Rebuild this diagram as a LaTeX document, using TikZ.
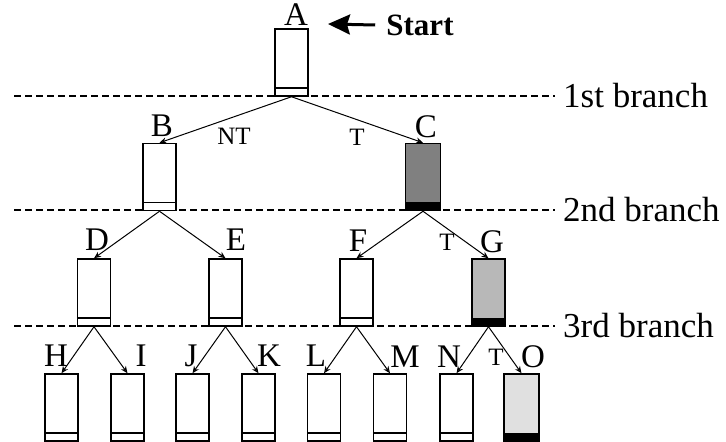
\documentclass[tikz,border=0pt]{standalone}
\usepackage{fontspec}
\setmainfont{Liberation Serif}
\usetikzlibrary{arrows.meta,positioning}

\begin{document}
\begin{tikzpicture}[
        x=1pt, y=-1pt,
        blk/.style={draw, fill=white, line width=1.5pt, minimum width=33pt,
            minimum height=67pt, inner sep=0pt},
        taken/.style={blk, fill=#1},
        br/.style={black, line width=1.1pt, dash pattern=on 7pt off 4pt},
        edge/.style={line width=1pt, -{Stealth[open,length=7pt,width=6pt]}},
        lbl/.style={inner sep=0pt, font=\fontsize{33}{36}\selectfont},
        tl/.style={inner sep=0pt, font=\fontsize{25}{28}\selectfont},
        brl/.style={inner sep=0pt, anchor=west, font=\fontsize{35}{40}\selectfont},
        every node/.style={color=black},
    ]
    \useasboundingbox (0,0) rectangle (726,442);

    % branch levels
    \node[brl] at (563,96) (b1) {1st branch};
    \node[brl] at (563,210) (b2) {2nd branch};
    \node[brl] at (563,326) (b3) {3rd branch};
    \coordinate (l1) at (14,96);
    \coordinate (l2) at (14,210);
    \coordinate (l3) at (14,326);
    \draw[br] (l1) -- ([xshift=-8pt]b1.west);
    \draw[br] (l2) -- ([xshift=-8pt]b2.west);
    \draw[br] (l3) -- ([xshift=-8pt]b3.west);

    % blocks
    \node[blk] at (291.5,62.5) (A) {};
    \node[blk] at (159.5,177) (B) {};
    \node[taken=black!50, minimum width=35pt] at (423,177) (C) {};
    \node[blk] at (94,292.5) (D) {};
    \node[blk] at (225.5,292.5) (E) {};
    \node[blk] at (356.5,292.5) (F) {};
    \node[taken=black!28] at (488.5,292.5) (G) {};
    \node[blk] at (61.5,407.5) (H) {};
    \node[blk] at (127.5,407.5) (I) {};
    \node[blk] at (192.5,407.5) (J) {};
    \node[blk] at (258.5,407.5) (K) {};
    \node[blk] at (324,407.5) (L) {};
    \node[blk] at (390,407.5) (M) {};
    \node[blk] at (456.5,407.5) (N) {};
    \node[taken=black!12, minimum width=35pt] at (521.5,407.5) (O) {};

    % bottom strips
    \foreach \b in {A,B,D,E,F,H,I,J,K,L,M,N}
        \draw[line width=1.5pt] ([yshift=9pt]\b.south west) -- ([yshift=9pt]\b.south east);
    \foreach \b in {C,G,O}
        \fill[black] ([yshift=9pt]\b.south west) rectangle (\b.south east);

    % edges
    \draw[edge] (A.south) -- (B.north);
    \draw[edge] (A.south) -- (C.north);
    \draw[edge] (B.south) -- (D.north);
    \draw[edge] (B.south) -- (E.north);
    \draw[edge] (C.south) -- (F.north);
    \draw[edge] (C.south) -- (G.north);
    \draw[edge] (D.south) -- (H.north);
    \draw[edge] (D.south) -- (I.north);
    \draw[edge] (E.south) -- (J.north);
    \draw[edge] (E.south) -- (K.north);
    \draw[edge] (F.south) -- (L.north);
    \draw[edge] (F.south) -- (M.north);
    \draw[edge] (G.south) -- (N.north);
    \draw[edge] (G.south) -- (O.north);

    % block names
    \node[lbl] at (296,15) (nA) {A};
    \node[lbl] at (162,126) (nB) {B};
    \node[lbl] at (426,127) (nC) {C};
    \node[lbl] at (97,240) (nD) {D};
    \node[lbl] at (236,240) (nE) {E};
    \node[lbl] at (358,241) (nF) {F};
    \node[lbl] at (492,242) (nG) {G};
    \node[lbl] at (56,356) (nH) {H};
    \node[lbl] at (141,356) (nI) {I};
    \node[lbl] at (191,356) (nJ) {J};
    \node[lbl] at (269,356) (nK) {K};
    \node[lbl] at (316,356) (nL) {L};
    \node[lbl] at (405,357) (nM) {M};
    \node[lbl] at (449,357) (nN) {N};
    \node[lbl] at (533,357) (nO) {O};

    % taken / not taken
    \node[tl] at (234,136) (tAB) {NT};
    \node[tl] at (357,137) (tAC) {T};
    \node[tl] at (447,242) (tCG) {T};
    \node[tl] at (496,357) (tGO) {T};

    % start marker
    \node[inner sep=0pt, font=\bfseries\fontsize{31}{34}\selectfont] at (420,25) (start) {Start};
    \coordinate (startend) at (328,24);
    \draw[line width=3pt, -{Stealth[length=22pt,width=20pt,inset=3pt]}]
        ([xshift=-11pt]start.west) -- (startend);
\end{tikzpicture}
\end{document}
